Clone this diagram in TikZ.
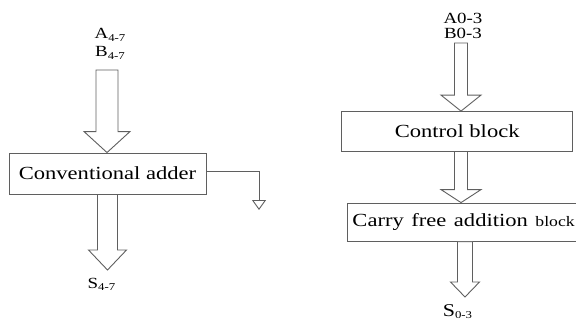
\documentclass[tikz,border=0pt]{standalone}
\usepackage{fontspec}
\setmainfont{Liberation Serif}
\usetikzlibrary{arrows.meta,calc}

\definecolor{linegray}{RGB}{95,95,95}
\newcommand{\wide}[1]{\scalebox{1.22}[1]{#1}}
\newcommand{\idx}[1]{\raisebox{-0.35ex}{\fontsize{10.5}{11}\selectfont #1}}
% hollow arrow: start, tip, half shaft, half head, head length
\newcommand{\fatarrow}[5]{%
    \draw[fat] ($(#1)+(-#3,0)$) -- ($(#2)+(-#3,-#5)$) -- ($(#2)+(-#4,-#5)$) -- (#2)
        -- ($(#2)+(#4,-#5)$) -- ($(#2)+(#3,-#5)$) -- ($(#1)+(#3,0)$) -- cycle;}

\begin{document}
\begin{tikzpicture}[
        x=1pt, y=-1pt,
        fat/.style={draw=linegray, line width=0.9pt, fill=white, line join=miter},
        block/.style={draw=linegray, line width=0.9pt, inner sep=0pt, font=\fontsize{18.5}{20}\selectfont},
        lbl/.style={anchor=base, inner sep=0pt, font=\fontsize{15.5}{17}\selectfont},
        carry/.style={draw=linegray, line width=0.9pt, -{Triangle[open, width=14pt, length=10pt]}}
        ]
            \useasboundingbox (0, 0) rectangle (576, 321);

            % Conventional part
            \node[lbl] (a1) at (110, 39) {\wide{A\idx{4-7}}};
            \node[lbl] (b1) at (110, 57) {\wide{B\idx{4-7}}};
            \node[block, minimum width=197pt, minimum height=41pt] (conv) at (107.5, 173.5) {\wide{Conventional adder}\hspace{8pt}};
            \coordinate (c1) at (107, 70);
            \coordinate (t1) at (107.5, 270);
            \coordinate (cout) at (259, 210);
            \fatarrow{c1}{c1 |- conv.north}{11}{23}{21}
            \fatarrow{conv.south}{t1}{10}{19}{20}
            \draw[carry] ($(conv.east)+(0, -2.5)$) -| (cout);
            \node[lbl] (s1) at (101.5, 288) {\wide{S\idx{4-7}}};

            % Carry free part
            \node[lbl] (a2) at (463, 23.5) {\wide{A0-3}};
            \node[lbl] (b2) at (463, 39) {\wide{B0-3}};
            \node[block, minimum width=231pt, minimum height=39.5pt] (ctrl) at (457.2, 131.3) {\wide{Control block}\hspace{15pt}};
            \node[block, anchor=west, align=left, text width=250pt, inner xsep=4.7pt, minimum height=38.7pt] (cfa) at (347.3, 222.4) {\wide{Carry free addition {\fontsize{14.5}{15}\selectfont block}}};
            \coordinate (c2) at (461, 43);
            \coordinate (c3) at (465, 241.7);
            \coordinate (t3) at (465, 297);
            \fatarrow{c2}{c2 |- ctrl.north}{6.5}{20}{16}
            \fatarrow{c2 |- ctrl.south}{c2 |- cfa.north}{6.5}{20}{13}
            \fatarrow{c3}{t3}{7.5}{14.5}{15}
            \node[lbl, font=\fontsize{18}{19}\selectfont] (s2) at (457.5, 316) {\wide{S\idx{0-3}}};
        \end{tikzpicture}
\end{document}
